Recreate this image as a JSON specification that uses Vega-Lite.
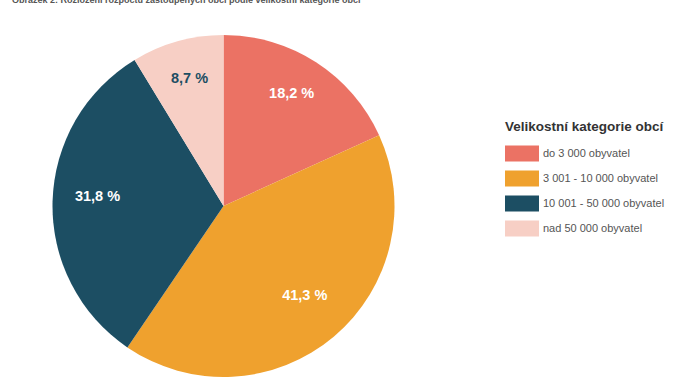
{
  "$schema": "https://vega.github.io/schema/vega-lite/v6.json",
  "width": 447,
  "height": 412,
  "autosize": "none",
  "padding": {"left": 0, "top": 0, "right": 227, "bottom": 0},
  "background": "white",
  "title": {
    "text": "Obrázek 2: Rozložení rozpočtu zastoupených obcí podle velikostní kategorie obcí",
    "anchor": "start",
    "frame": "group",
    "font": "Liberation Sans",
    "fontSize": 9,
    "fontWeight": "bold",
    "color": "#555555",
    "baseline": "alphabetic",
    "offset": 0,
    "dx": 12,
    "dy": 11.5
  },
  "data": {
    "values": [
      {"kategorie": "do 3 000 obyvatel", "podil": 18.2, "label": "18,2 %", "poradi": 1},
      {"kategorie": "3 001 - 10 000 obyvatel", "podil": 41.3, "label": "41,3 %", "poradi": 2},
      {"kategorie": "10 001 - 50 000 obyvatel", "podil": 31.8, "label": "31,8 %", "poradi": 3},
      {"kategorie": "nad 50 000 obyvatel", "podil": 8.7, "label": "8,7 %", "poradi": 4}
    ]
  },
  "encoding": {
    "theta": {"field": "podil", "type": "quantitative", "stack": true},
    "order": {"field": "poradi", "type": "quantitative"},
    "detail": {"field": "kategorie", "type": "nominal"}
  },
  "layer": [
    {
      "mark": {"type": "arc", "outerRadius": 171},
      "encoding": {
        "color": {
          "field": "kategorie",
          "type": "nominal",
          "sort": ["do 3 000 obyvatel", "3 001 - 10 000 obyvatel", "10 001 - 50 000 obyvatel", "nad 50 000 obyvatel"],
          "scale": {
            "domain": ["do 3 000 obyvatel", "3 001 - 10 000 obyvatel", "10 001 - 50 000 obyvatel", "nad 50 000 obyvatel"],
            "range": ["#EB7264", "#EFA12E", "#1C4E63", "#F7CFC5"]
          },
          "legend": {
            "title": "Velikostní kategorie obcí",
            "orient": "none",
            "legendX": 505,
            "legendY": 120,
            "padding": 0,
            "titleFont": "Liberation Sans",
            "titleFontSize": 13.5,
            "titleFontWeight": "bold",
            "titleColor": "#333333",
            "titlePadding": 3,
            "labelFont": "Liberation Sans",
            "labelFontSize": 11,
            "labelColor": "#555555",
            "labelOffset": 4,
            "symbolType": "M-1,-0.47H1V0.47H-1Z",
            "symbolSize": 1156,
            "symbolStrokeWidth": 0,
            "symbolOffset": 0,
            "symbolOpacity": 1,
            "rowPadding": -7
          }
        }
      }
    },
    {
      "mark": {"type": "text", "radius": 126, "dy": -6, "font": "Liberation Sans", "fontSize": 14.5, "fontWeight": "bold"},
      "encoding": {
        "text": {"field": "label", "type": "nominal"},
        "color": {
          "condition": {"test": "datum.poradi == 4", "value": "#1C4E63"},
          "value": "white"
        }
      }
    }
  ]
}
